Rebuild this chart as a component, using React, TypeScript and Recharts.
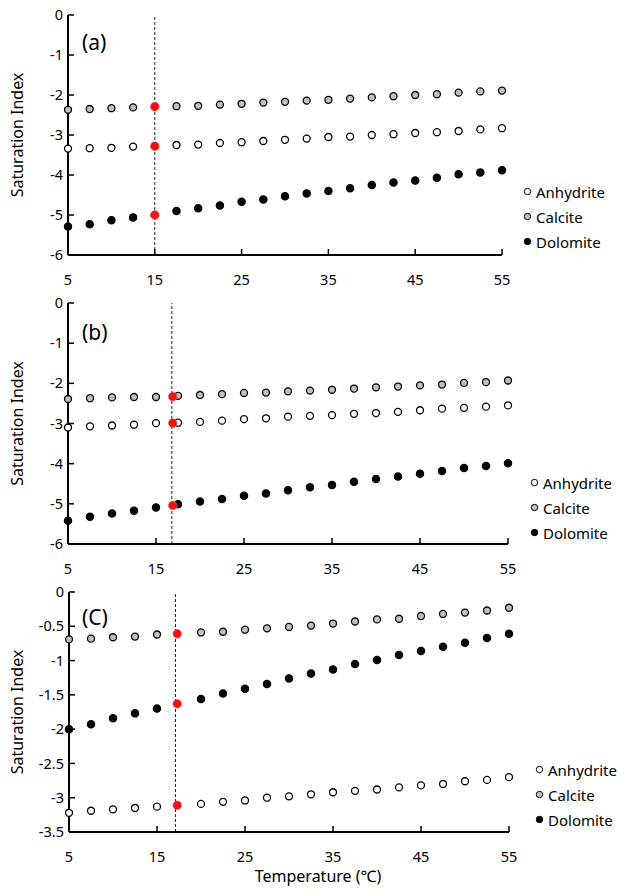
import { ScatterChart, Scatter, XAxis, YAxis, ReferenceLine, Legend } from "recharts";

const FONT = "'Noto Sans', 'DejaVu Sans', sans-serif";

// temperature steps (°C)
const temps = [5, 7.5, 10, 12.5, 15, 17.5, 20, 22.5, 25, 27.5, 30, 32.5, 35, 37.5, 40, 42.5, 45, 47.5, 50, 52.5, 55];
const tempsC = [5, 7.5, 10, 12.5, 15, 20, 22.5, 25, 27.5, 30, 32.5, 35, 37.5, 40, 42.5, 45, 47.5, 50, 52.5, 55];
const xTicks = [5, 15, 25, 35, 45, 55];

// (a)
const anhydriteA = [-3.34, -3.33, -3.32, -3.29, -3.28, -3.25, -3.24, -3.2, -3.18, -3.15, -3.12, -3.09, -3.05, -3.04, -3.0, -2.98, -2.95, -2.93, -2.9, -2.86, -2.83];
const calciteA = [-2.37, -2.35, -2.33, -2.31, -2.29, -2.28, -2.27, -2.24, -2.22, -2.19, -2.17, -2.14, -2.12, -2.09, -2.06, -2.03, -2.0, -1.98, -1.94, -1.91, -1.89];
const dolomiteA = [-5.29, -5.23, -5.13, -5.06, -5.0, -4.9, -4.83, -4.76, -4.67, -4.61, -4.53, -4.46, -4.4, -4.33, -4.25, -4.19, -4.14, -4.07, -3.98, -3.94, -3.88];
const fieldTempA = 15;
const fieldA = [-3.28, -2.29, -5.0];

// (b)
const anhydriteB = [-3.1, -3.07, -3.05, -3.03, -2.99, -2.98, -2.96, -2.93, -2.89, -2.87, -2.83, -2.81, -2.79, -2.76, -2.74, -2.71, -2.67, -2.63, -2.61, -2.58, -2.55];
const calciteB = [-2.39, -2.37, -2.35, -2.34, -2.34, -2.31, -2.29, -2.27, -2.24, -2.23, -2.2, -2.18, -2.16, -2.13, -2.1, -2.08, -2.05, -2.03, -1.99, -1.97, -1.93];
const dolomiteB = [-5.42, -5.32, -5.24, -5.17, -5.09, -5.01, -4.94, -4.88, -4.8, -4.74, -4.66, -4.59, -4.53, -4.45, -4.38, -4.32, -4.25, -4.18, -4.11, -4.06, -3.99];
const fieldTempB = 16.9;
const lineTempB = 16.8;
const fieldB = [-2.99, -2.33, -5.04];

// (C)
const anhydriteC = [-3.22, -3.19, -3.17, -3.15, -3.13, -3.09, -3.06, -3.04, -3.0, -2.98, -2.95, -2.92, -2.9, -2.88, -2.85, -2.82, -2.8, -2.76, -2.74, -2.7];
const calciteC = [-0.69, -0.68, -0.66, -0.65, -0.62, -0.59, -0.58, -0.55, -0.53, -0.51, -0.49, -0.46, -0.43, -0.4, -0.39, -0.35, -0.32, -0.3, -0.27, -0.23];
const dolomiteC = [-2.0, -1.93, -1.84, -1.77, -1.7, -1.56, -1.48, -1.41, -1.34, -1.26, -1.19, -1.13, -1.05, -0.99, -0.92, -0.86, -0.8, -0.74, -0.67, -0.61];
const fieldTempC = 17.3;
const lineTempC = 17.1;
const fieldC = [-3.11, -0.61, -1.63];

const yTicksAB = [-6, -5, -4, -3, -2, -1, 0];
const yTicksC = [-3.5, -3, -2.5, -2, -1.5, -1, -0.5, 0];

const seriesNames = ["Anhydrite", "Calcite", "Dolomite"];
const seriesFill = ["#ffffff", "#c0c0c0", "#000000"];

const toPts = (xs: number[], ys: number[]) => xs.map((x, i) => ({ x, y: ys[i] }));

const X_GAP = 25;
const Y_GAP = 5;
const X_DOMAIN: [number, number] = [5, 55];
const frame = { stroke: "#000", strokeWidth: 2 };

// tick label plus a short inward tick mark (Excel style)
function XTick(props: any) {
  const { x, y, payload } = props;
  return (
    <g>
      <line x1={x} x2={x} y1={y - X_GAP} y2={y - X_GAP - 6} stroke="#000" strokeWidth={1.5} />
      <text x={x} y={y} dy="0.35em" textAnchor="middle" fontSize={14.5} fontFamily={FONT} fill="#000">
        {payload.value}
      </text>
    </g>
  );
}

function YTick(props: any) {
  const { x, y, payload } = props;
  return (
    <g>
      <line x1={x + Y_GAP} x2={x + Y_GAP + 6} y1={y} y2={y} stroke="#000" strokeWidth={1.5} />
      <text x={x} y={y} dy="0.35em" textAnchor="end" fontSize={14.5} fontFamily={FONT} fill="#000">
        {payload.value}
      </text>
    </g>
  );
}

const dot = (fill: string, r: number) => (p: any) => (
  <circle cx={p.cx} cy={p.cy} r={r} fill={fill} stroke="#000" strokeWidth={1.3} />
);
const redDot = (p: any) => <circle cx={p.cx} cy={p.cy} r={4.3} fill="#ee1111" stroke="#ff5555" strokeWidth={0.6} />;

const legendContent = () => (
  <div style={{ fontFamily: FONT, fontSize: 15, color: "#000" }}>
    {seriesNames.map((n, i) => (
      <div key={n} style={{ height: 25, display: "flex", alignItems: "center", whiteSpace: "nowrap" }}>
        <svg width={9} height={9} style={{ marginRight: 4 }}>
          <circle cx={4.5} cy={4.5} r={3.2} fill={seriesFill[i]} stroke="#000" strokeWidth={1} />
        </svg>
        {n}
      </div>
    ))}
  </div>
);

interface PanelProps {
  top: number;
  height: number;
  margin: { top: number; right: number; bottom: number; left: number };
  yWidth: number;
  xHeight: number;
  yDomain: [number, number];
  yTicks: number[];
  xs: number[];
  anhydrite: number[];
  calcite: number[];
  dolomite: number[];
  fieldTemp: number;
  lineTemp: number;
  field: number[];
  tag: string;
  tagTop: number;
  legendLeft: number;
  legendTop: number;
  xLabel?: boolean;
}

function Panel(p: PanelProps) {
  const red = p.field.map((y) => ({ x: p.fieldTemp, y }));
  return (
    <div style={{ position: "absolute", left: 0, top: p.top, width: 641, height: p.height }}>
      <ScatterChart width={641} height={p.height} margin={p.margin}>
        <XAxis
          type="number"
          dataKey="x"
          domain={X_DOMAIN}
          ticks={xTicks}
          height={p.xHeight}
          tickSize={0}
          tickMargin={X_GAP}
          tickLine={false}
          axisLine={frame}
          stroke="#000"
          tick={<XTick />}
          interval={0}
          label={
            p.xLabel
              ? { value: "Temperature (℃)", position: "insideBottom", offset: 7, dx: 29, style: { fontSize: 16, fontFamily: FONT, fill: "#000" } }
              : undefined
          }
        />
        <XAxis xAxisId="top" orientation="top" type="number" domain={X_DOMAIN} height={0} tick={false} tickLine={false} axisLine={frame} stroke="#000" />
        <YAxis
          type="number"
          dataKey="y"
          domain={p.yDomain}
          ticks={p.yTicks}
          width={p.yWidth}
          tickSize={0}
          tickMargin={Y_GAP}
          tickLine={false}
          axisLine={frame}
          stroke="#000"
          tick={<YTick />}
          interval={0}
          label={{
            value: "Saturation Index",
            angle: -90,
            position: "insideLeft",
            offset: 17,
            style: { textAnchor: "middle", fontSize: 16, fontFamily: FONT, fill: "#000" },
          }}
        />
        <YAxis yAxisId="right" orientation="right" type="number" domain={p.yDomain} width={0} tick={false} tickLine={false} axisLine={frame} stroke="#000" />
        <ReferenceLine x={p.lineTemp} stroke="#222" strokeWidth={1} strokeDasharray="3 2" />
        <Scatter name="Anhydrite" data={toPts(p.xs, p.anhydrite)} shape={dot(seriesFill[0], 3.5)} isAnimationActive={false} />
        <Scatter name="Calcite" data={toPts(p.xs, p.calcite)} shape={dot(seriesFill[1], 3.5)} isAnimationActive={false} />
        <Scatter name="Dolomite" data={toPts(p.xs, p.dolomite)} shape={dot(seriesFill[2], 3.6)} isAnimationActive={false} />
        <Scatter name="field" data={red} shape={redDot} legendType="none" isAnimationActive={false} />
        <Legend
          layout="vertical"
          align="center"
          verticalAlign="middle"
          content={legendContent}
          wrapperStyle={{ left: p.legendLeft, top: p.legendTop, width: "auto", height: "auto" }}
        />
      </ScatterChart>
      <div
        style={{
          position: "absolute",
          left: 82,
          top: p.tagTop,
          fontFamily: FONT,
          fontSize: 21,
          lineHeight: "24px",
          color: "#000",
        }}
      >
        {p.tag}
      </div>
    </div>
  );
}

export default function App() {
  return (
    <div style={{ position: "absolute", left: 0, top: 0, width: 641, height: 889, background: "#fff" }}>
      <Panel
        top={0}
        height={290}
        margin={{ top: 15, right: 139, bottom: 0, left: 0 }}
        yWidth={68}
        xHeight={35}
        yDomain={[-6, 0]}
        yTicks={yTicksAB}
        xs={temps}
        anhydrite={anhydriteA}
        calcite={calciteA}
        dolomite={dolomiteA}
        fieldTemp={fieldTempA}
        lineTemp={fieldTempA}
        field={fieldA}
        tag="(a)"
        tagTop={30}
        legendLeft={523}
        legendTop={179}
      />
      <Panel
        top={290}
        height={290}
        margin={{ top: 13, right: 133, bottom: 0, left: 0 }}
        yWidth={68}
        xHeight={36}
        yDomain={[-6, 0]}
        yTicks={yTicksAB}
        xs={temps}
        anhydrite={anhydriteB}
        calcite={calciteB}
        dolomite={dolomiteB}
        fieldTemp={fieldTempB}
        lineTemp={lineTempB}
        field={fieldB}
        tag="(b)"
        tagTop={30}
        legendLeft={530}
        legendTop={180}
      />
      <Panel
        top={580}
        height={309}
        margin={{ top: 12, right: 132, bottom: 0, left: 0 }}
        yWidth={69}
        xHeight={57}
        yDomain={[-3.5, 0]}
        yTicks={yTicksC}
        xs={tempsC}
        anhydrite={anhydriteC}
        calcite={calciteC}
        dolomite={dolomiteC}
        fieldTemp={fieldTempC}
        lineTemp={lineTempC}
        field={fieldC}
        tag="(C)"
        tagTop={25}
        legendLeft={535}
        legendTop={177}
        xLabel
      />
    </div>
  );
}
